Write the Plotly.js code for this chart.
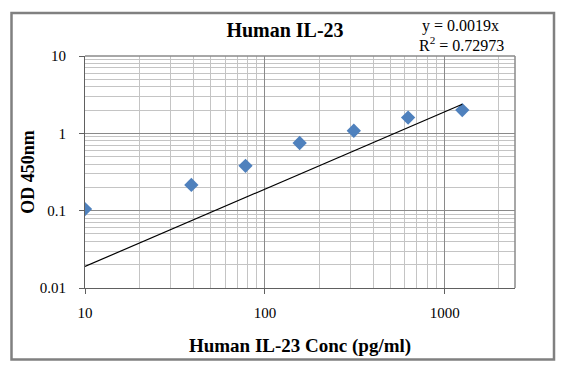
<!DOCTYPE html>
<html>
<head>
<meta charset="utf-8">
<script src="https://cdn.plot.ly/plotly-3.0.1.min.js"></script>
<style>
html,body{margin:0;padding:0;background:#fff;}
#chart{width:568px;height:373px;}
</style>
</head>
<body>
<div id="chart"></div>
<script>
// Data
var concentration = [10, 39, 78, 156, 312, 625, 1250];   // pg/ml
var od450 = [0.105, 0.215, 0.38, 0.75, 1.08, 1.6, 2.0];
var trendSlope = 0.0019;            // y = 0.0019x
var rSquared = "0.72973";
var xTickVals = [10, 100, 1000];
var xTickText = ["10", "100", "1000"];
var yTickVals = [0.01, 0.1, 1, 10];
var yTickText = ["0.01", "0.1", "1", "10"];

// Trendline through the range of the data, from the printed equation
var trendX = [concentration[0], concentration[concentration.length - 1]];
var trendY = trendX.map(function (x) { return trendSlope * x; });

// Layout geometry (pixels)
var W = 568, H = 373, L = 85, R = 515, T = 56, B = 288;
function px(x) { return (x - L) / (R - L); }
function py(y) { return (B - y) / (B - T); }

var serif = "Liberation Serif, Times New Roman, serif";

var traces = [
  {
    x: concentration, y: od450, type: "scatter", mode: "markers",
    marker: { symbol: "diamond", size: 11, color: "#4F81BD", line: { width: 0 } },
    hoverinfo: "x+y", showlegend: false
  },
  {
    x: trendX, y: trendY, type: "scatter", mode: "lines",
    line: { color: "#000000", width: 1.2 },
    hoverinfo: "skip", showlegend: false
  }
];

var layout = {
  width: W, height: H,
  margin: { l: L, r: W - R, t: T, b: H - B, pad: 0 },
  paper_bgcolor: "#ffffff", plot_bgcolor: "#ffffff",
  font: { family: serif, size: 15, color: "#000000" },
  title: {
    text: "<b>Human IL-23</b>",
    font: { family: serif, size: 20, color: "#000000" },
    x: 285 / W, xanchor: "center", xref: "container",
    y: 1 - 30 / H, yanchor: "middle", yref: "container"
  },
  xaxis: {
    type: "log",
    range: [1, 3.39],
    tickvals: xTickVals, ticktext: xTickText,
    ticks: "outside", ticklen: 5, tickcolor: "#606060", tickwidth: 1,
    ticklabelstandoff: 6,
    tickfont: { family: serif, size: 15, color: "#000000" },
    showgrid: true, gridcolor: "#8a8a8a", gridwidth: 1,
    minor: { dtick: "D1", showgrid: true, gridcolor: "#c4c4c4", gridwidth: 1, ticks: "" },
    showline: true, linecolor: "#606060", linewidth: 1, mirror: false,
    zeroline: false,
    title: {
      text: "<b>Human IL-23 Conc (pg/ml)</b>",
      font: { family: serif, size: 19, color: "#000000" },
      standoff: 18
    }
  },
  yaxis: {
    type: "log",
    range: [-2, 1],
    tickvals: yTickVals, ticktext: yTickText,
    ticks: "outside", ticklen: 5, tickcolor: "#606060", tickwidth: 1,
    ticklabelstandoff: 10,
    tickfont: { family: serif, size: 15, color: "#000000" },
    showgrid: true, gridcolor: "#8a8a8a", gridwidth: 1,
    minor: { dtick: "D1", showgrid: true, gridcolor: "#c4c4c4", gridwidth: 1, ticks: "" },
    showline: true, linecolor: "#606060", linewidth: 1, mirror: false,
    zeroline: false,
    title: {
      text: "<b>OD 450nm</b>",
      font: { family: serif, size: 18, color: "#000000" },
      standoff: 0
    }
  },
  shapes: [
    { type: "rect", xref: "paper", yref: "paper",
      x0: px(R), x1: px(R), y0: py(B), y1: py(T),
      line: { color: "#8a8a8a", width: 1 } },
    { type: "rect", xref: "paper", yref: "paper",
      x0: px(L), x1: px(R), y0: py(T), y1: py(T),
      line: { color: "#8a8a8a", width: 1 } },
    { type: "rect", xref: "paper", yref: "paper", layer: "above",
      x0: px(11.5), x1: px(554), y0: py(359.5), y1: py(13),
      line: { color: "#808080", width: 2.5 } }
  ],
  annotations: [
    { xref: "paper", yref: "paper", x: px(460), y: py(26.5),
      xanchor: "center", yanchor: "middle", showarrow: false,
      text: "y = " + trendSlope + "x",
      font: { family: serif, size: 16, color: "#000000" } },
    { xref: "paper", yref: "paper", x: px(461), y: py(44),
      xanchor: "center", yanchor: "middle", showarrow: false,
      text: "R<sup>2</sup> = " + rSquared,
      font: { family: serif, size: 16, color: "#000000" } }
  ]
};

Plotly.newPlot("chart", traces, layout, { displayModeBar: false, staticPlot: true });
</script>
</body>
</html>
